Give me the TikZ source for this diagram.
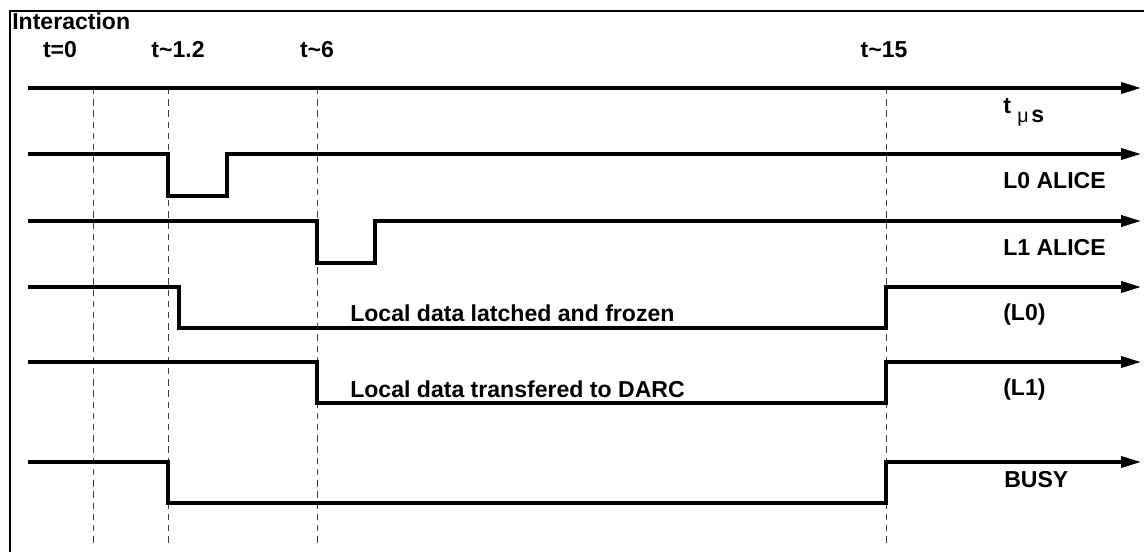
\documentclass[tikz,border=0pt]{standalone}
\usepackage{fontspec}
\setmainfont{Liberation Sans}
\usetikzlibrary{positioning,arrows.meta}

\begin{document}
\begin{tikzpicture}[x=0.025cm,y=-0.025cm,
	sig/.style={line width=0.08cm,-{Triangle[length=0.5cm,width=0.28cm]}},
	marker/.style={black!75,line width=0.025cm,dash pattern=on 0.16cm off 0.12cm},
	lbl/.style={anchor=base west,inner sep=0pt,font=\fontsize{16.4}{19}\selectfont\bfseries},
	tick/.style={anchor=base,inner sep=0pt,font=\fontsize{16.4}{19}\selectfont\bfseries}]
	\useasboundingbox (0,0) rectangle (1144,552);
	% Frame
	\coordinate []  (F1) at (10,552)  ;
	\coordinate []  (F2) at (10,11)  ;
	\coordinate []  (F3) at (1144,11)  ;
	\draw[line width=0.06cm] (F1) -- (F2) -- (F3);
	\node[lbl] (inter) at (12,29) {Interaction};
	% Time marks
	\coordinate []  (m0a) at (93,88)  ;
	\coordinate []  (m0b) at (93,546) ;
	\coordinate []  (m1a) at (168,88)  ;
	\coordinate []  (m1b) at (168,546) ;
	\coordinate []  (m2a) at (317,88)  ;
	\coordinate []  (m2b) at (317,546) ;
	\coordinate []  (m3a) at (886,88)  ;
	\coordinate []  (m3b) at (886,546) ;
	\draw[marker] (m0a) -- (m0b);
	\draw[marker] (m1a) -- (m1b);
	\draw[marker] (m2a) -- (m2b);
	\draw[marker] (m3a) -- (m3b);
	\node[tick] (t0) at (60,57) {t=0};
	\node[tick] (t1) at (178,57) {t\textasciitilde1.2};
	\node[tick] (t2) at (317,57) {t\textasciitilde6};
	\node[tick] (t3) at (884,57) {t\textasciitilde15};
	% Time axis
	\coordinate []  (ax0) at (28,88)  ;
	\coordinate []  (ax1) at (1141,88) ;
	\draw[sig] (ax0) -- (ax1);
	\node[lbl] (tax) at (1003,113) {t};
	\node[lbl] (tmu) at (1017,122) {\fontsize{14}{16}\selectfont\mdseries μ};
	\node[lbl] (tsec) at (1031,122) {s};
	% L0 ALICE
	\coordinate []  (a0) at (28,154)  ;
	\coordinate []  (a1) at (168,154)  ;
	\coordinate []  (a2) at (168,196)  ;
	\coordinate []  (a3) at (227,196)  ;
	\coordinate []  (a4) at (227,154)  ;
	\coordinate []  (a5) at (1141,154)  ;
	\draw[sig] (a0) -- (a1) -- (a2) -- (a3) -- (a4) -- (a5);
	\node[lbl] (l0alice) at (1003,188) {L0 ALICE};
	% L1 ALICE
	\coordinate []  (b0) at (28,221)  ;
	\coordinate []  (b1) at (317,221)  ;
	\coordinate []  (b2) at (317,263)  ;
	\coordinate []  (b3) at (375,263)  ;
	\coordinate []  (b4) at (375,221)  ;
	\coordinate []  (b5) at (1141,221)  ;
	\draw[sig] (b0) -- (b1) -- (b2) -- (b3) -- (b4) -- (b5);
	\node[lbl] (l1alice) at (1003,255) {L1 ALICE};
	% (L0)
	\coordinate []  (c0) at (28,287)  ;
	\coordinate []  (c1) at (179,287)  ;
	\coordinate []  (c2) at (179,328)  ;
	\coordinate []  (c3) at (886,328)  ;
	\coordinate []  (c4) at (886,287)  ;
	\coordinate []  (c5) at (1141,287)  ;
	\draw[sig] (c0) -- (c1) -- (c2) -- (c3) -- (c4) -- (c5);
	\node[lbl] (latched) at (350,321) {Local data latched and frozen};
	\node[lbl] (l0) at (1003,320) {(L0)};
	% (L1)
	\coordinate []  (d0) at (28,362)  ;
	\coordinate []  (d1) at (317,362)  ;
	\coordinate []  (d2) at (317,403)  ;
	\coordinate []  (d3) at (886,403)  ;
	\coordinate []  (d4) at (886,362)  ;
	\coordinate []  (d5) at (1141,362)  ;
	\draw[sig] (d0) -- (d1) -- (d2) -- (d3) -- (d4) -- (d5);
	\node[lbl] (transfered) at (350,397) {Local data transfered to DARC};
	\node[lbl] (l1) at (1003,395) {(L1)};
	% BUSY
	\coordinate []  (e0) at (28,462)  ;
	\coordinate []  (e1) at (168,462)  ;
	\coordinate []  (e2) at (168,503)  ;
	\coordinate []  (e3) at (886,503)  ;
	\coordinate []  (e4) at (886,462)  ;
	\coordinate []  (e5) at (1141,462)  ;
	\draw[sig] (e0) -- (e1) -- (e2) -- (e3) -- (e4) -- (e5);
	\node[lbl] (busy) at (1004,487) {BUSY};
\end{tikzpicture}
\end{document}
